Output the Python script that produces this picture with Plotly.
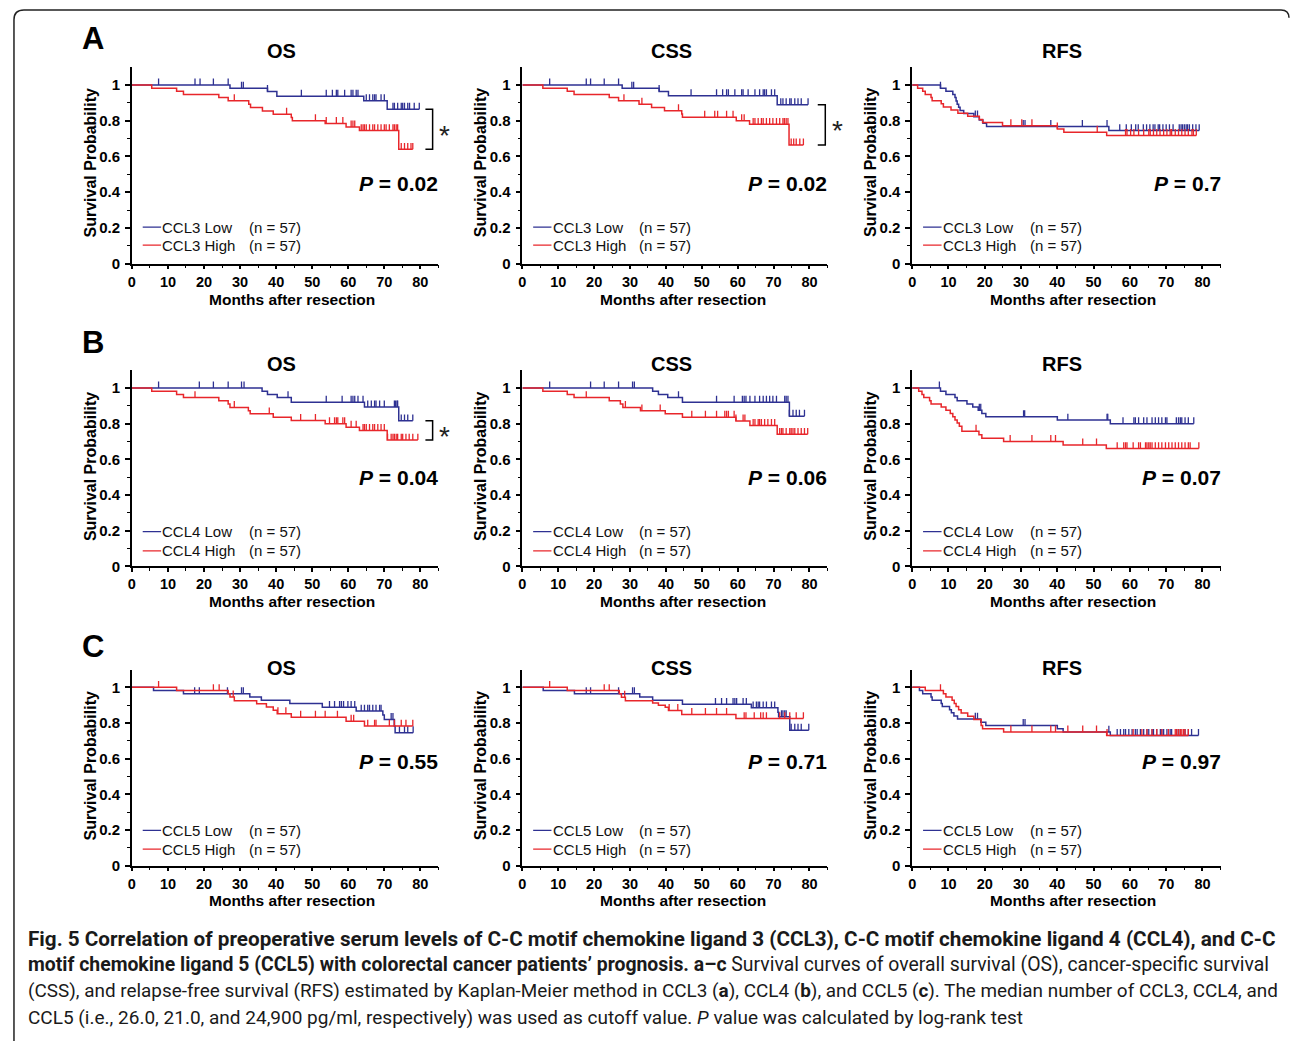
import numpy as np
import plotly.graph_objects as go

W, H = 1290, 1041
BLUE = "#2E3192"
RED = "#E8262B"
FONT = "Liberation Sans, Arial, sans-serif"
CAP_FONT = "Roboto, Liberation Sans, sans-serif"

# ---------------- data ----------------
month_ticks = [0, 10, 20, 30, 40, 50, 60, 70, 80]
prob_ticks = [0, 0.2, 0.4, 0.6, 0.8, 1.0]
prob_ticktext = ["0", "0.2", "0.4", "0.6", "0.8", "1"]
row_letters = ["A", "B", "C"]
col_titles = ["OS", "CSS", "RFS"]
ligands = ["CCL3", "CCL4", "CCL5"]
group_n = [57, 57]
p_values = [["0.02", "0.02", "0.7"], ["0.04", "0.06", "0.07"], ["0.55", "0.71", "0.97"]]

# --- CCL3 OS ---
ccl3_os_low_t = [27.2, 37.6, 40.2, 64.3, 70.8]
ccl3_os_low_s = [0.982, 0.964, 0.937, 0.912, 0.865]
ccl3_os_low_c = [7.4, 17.5, 18.9, 22.6, 26.7, 30.4, 30.9, 37.6, 47.0, 53.9, 55.6, 56.7, 57.1, 59.0, 60.8, 61.3,
                 62.2, 62.7, 65.0, 65.9, 66.8, 67.3, 67.7, 69.1, 70.0, 72.4, 72.8, 73.7, 74.7, 75.1, 75.6, 76.5,
                 77.0, 78.3, 79.7]
ccl3_os_high_t = [5.5, 12.4, 14.3, 24.1, 26.7, 32.4, 32.9, 36.2, 39.2, 44.2, 44.5, 53.6, 59.4, 63.1, 74.0]
ccl3_os_high_s = [0.982, 0.965, 0.947, 0.930, 0.912, 0.893, 0.874, 0.855, 0.837, 0.818, 0.800, 0.785, 0.765,
                  0.745, 0.640]
ccl3_os_high_c = [28.4, 42.9, 50.9, 53.9, 56.7, 58.5, 60.8, 61.3, 61.8, 63.6, 64.1, 64.5, 65.0, 65.9, 66.8, 67.3,
                  68.2, 69.1, 70.0, 70.5, 71.4, 72.4, 72.8, 73.3, 73.7, 74.7, 75.6, 76.5, 77.4, 77.9]
# --- CCL3 CSS ---
ccl3_css_low_t = [27.8, 38.1, 40.7, 71.0]
ccl3_css_low_s = [0.982, 0.964, 0.940, 0.890]
ccl3_css_low_c = [7.6, 17.8, 19.0, 22.8, 26.8, 30.5, 31.0, 38.1, 47.0, 54.1, 55.8, 56.9, 57.4, 59.2, 61.1, 61.5,
                  62.9, 64.8, 66.1, 67.1, 67.5, 68.0, 69.4, 70.3, 72.0, 72.6, 73.5, 74.5, 74.9, 75.9, 76.8, 77.7,
                  79.6]
ccl3_css_high_t = [5.7, 12.5, 14.4, 24.2, 26.8, 32.5, 36.0, 39.6, 44.4, 44.6, 59.6, 63.3, 74.3]
ccl3_css_high_s = [0.982, 0.965, 0.947, 0.930, 0.912, 0.893, 0.874, 0.856, 0.838, 0.820, 0.800, 0.780, 0.665]
ccl3_css_high_c = [28.3, 33.3, 43.5, 50.8, 53.6, 54.4, 56.9, 58.7, 61.1, 61.8, 64.3, 64.8, 65.7, 66.6, 67.1, 68.0,
                   68.9, 69.8, 70.8, 71.7, 72.6, 73.0, 73.5, 74.0, 74.9, 75.6, 76.3, 77.3, 78.3]
# --- CCL3 RFS ---
ccl3_rfs_low_t = [7.8, 9.3, 11.2, 11.8, 12.1, 12.4, 12.8, 13.2, 14.2, 17.0, 18.5, 19.5, 20.5, 54.2]
ccl3_rfs_low_s = [0.982, 0.965, 0.947, 0.930, 0.910, 0.893, 0.875, 0.857, 0.840, 0.822, 0.804, 0.786, 0.768,
                  0.745]
ccl3_rfs_low_c = [7.8, 17.4, 18.0, 30.6, 31.1, 38.2, 46.9, 53.7, 57.2, 59.0, 60.4, 61.6, 62.3, 63.7, 64.6, 65.5,
                  66.4, 66.9, 67.8, 68.2, 69.1, 70.0, 70.9, 71.9, 73.6, 74.1, 74.5, 75.0, 75.5, 75.9, 76.4, 77.3,
                  78.2, 79.1]
ccl3_rfs_high_t = [1.5, 2.9, 3.6, 5.2, 5.5, 8.0, 8.6, 10.7, 12.6, 15.3, 18.5, 19.4, 24.9, 40.0, 41.8, 53.6]
ccl3_rfs_high_s = [0.982, 0.965, 0.947, 0.930, 0.912, 0.895, 0.877, 0.860, 0.842, 0.825, 0.807, 0.790, 0.772,
                   0.754, 0.736, 0.718]
ccl3_rfs_high_c = [27.2, 30.2, 33.0, 40.0, 51.0, 58.8, 59.2, 60.2, 61.1, 62.4, 63.8, 65.2, 65.6, 66.5, 67.4, 68.3,
                   69.3, 70.2, 71.1, 71.5, 72.5, 73.4, 74.3, 75.2, 76.1, 77.1, 77.5, 78.3]
# --- CCL4 OS ---
ccl4_os_low_t = [36.1, 37.6, 40.3, 44.2, 64.5, 74.0]
ccl4_os_low_s = [0.982, 0.964, 0.946, 0.920, 0.894, 0.816]
ccl4_os_low_c = [7.4, 18.7, 22.6, 26.7, 30.4, 31.1, 43.3, 53.9, 58.3, 60.8, 61.3, 61.8, 62.7, 64.1, 65.4, 66.4,
                 67.3, 67.7, 68.7, 70.0, 72.8, 73.1, 73.5, 73.7, 74.7, 75.6, 76.5, 77.9]
ccl4_os_high_t = [5.5, 12.4, 14.3, 24.1, 26.7, 27.2, 32.3, 32.8, 39.2, 44.2, 53.6, 59.4, 63.1, 70.8]
ccl4_os_high_s = [0.982, 0.964, 0.946, 0.928, 0.910, 0.891, 0.873, 0.855, 0.836, 0.818, 0.800, 0.780, 0.762,
                  0.708]
ccl4_os_high_c = [17.5, 28.4, 38.1, 46.8, 50.9, 54.8, 56.2, 56.7, 57.1, 58.5, 59.0, 60.8, 62.2, 64.1, 64.5, 65.0,
                  65.9, 66.8, 67.3, 68.2, 69.1, 70.0, 70.9, 71.9, 72.4, 72.8, 73.3, 73.7, 74.7, 75.1, 76.0, 76.9,
                  77.9, 79.3]
# --- CCL4 CSS ---
ccl4_css_low_t = [36.3, 37.9, 40.5, 44.6, 74.4]
ccl4_css_low_s = [0.982, 0.964, 0.946, 0.920, 0.842]
ccl4_css_low_c = [7.6, 19.0, 22.8, 26.8, 30.7, 31.2, 43.5, 54.1, 59.0, 61.3, 61.8, 62.3, 63.4, 64.8, 66.1, 67.1,
                  68.0, 68.9, 69.8, 70.8, 73.1, 73.5, 74.0, 74.4, 75.4, 76.3, 77.2, 78.6]
ccl4_css_high_t = [5.7, 12.5, 14.4, 24.2, 27.3, 28.0, 32.9, 39.8, 44.6, 59.5, 63.4, 71.0]
ccl4_css_high_s = [0.982, 0.964, 0.946, 0.928, 0.910, 0.891, 0.872, 0.855, 0.836, 0.815, 0.790, 0.740]
ccl4_css_high_c = [17.8, 28.7, 33.3, 38.4, 47.2, 51.0, 54.1, 56.4, 56.9, 57.4, 59.0, 59.5, 61.5, 62.0, 64.3, 64.8,
                   65.7, 66.1, 66.6, 67.5, 68.4, 69.4, 70.3, 71.7, 72.2, 72.6, 73.5, 74.5, 74.9, 75.4, 75.9, 76.8,
                   77.7, 78.6, 79.5]
# --- CCL4 RFS ---
ccl4_rfs_low_t = [7.8, 9.3, 11.8, 12.4, 15.1, 16.7, 18.2, 19.2, 20.3, 40.0, 54.6]
ccl4_rfs_low_s = [0.982, 0.964, 0.946, 0.928, 0.910, 0.893, 0.875, 0.857, 0.839, 0.820, 0.800]
ccl4_rfs_low_c = [7.5, 18.5, 18.9, 30.7, 31.0, 42.9, 53.7, 53.9, 58.1, 61.1, 61.5, 62.4, 63.8, 64.7, 66.1, 67.0,
                  67.9, 68.8, 69.8, 70.2, 72.8, 73.4, 73.9, 74.3, 75.2, 76.1, 77.6]
ccl4_rfs_high_t = [1.8, 2.7, 3.2, 4.8, 5.2, 8.0, 9.3, 10.5, 11.2, 11.8, 12.4, 13.0, 13.7, 18.4, 19.2, 25.2, 41.6,
                   53.5]
ccl4_rfs_high_s = [0.982, 0.964, 0.946, 0.928, 0.910, 0.893, 0.875, 0.857, 0.839, 0.821, 0.803, 0.785, 0.758,
                   0.738, 0.718, 0.700, 0.681, 0.660]
ccl4_rfs_high_c = [17.6, 27.0, 33.0, 38.2, 39.5, 47.0, 50.8, 56.5, 58.3, 58.8, 59.2, 60.9, 62.4, 62.9, 64.3, 64.7,
                   65.2, 65.6, 66.1, 67.0, 67.9, 68.8, 69.8, 70.7, 71.6, 72.5, 73.4, 74.3, 75.2, 76.1, 76.6, 79.0]
# --- CCL5 OS ---
ccl5_os_low_t = [6.0, 14.3, 32.7, 35.9, 43.8, 52.8, 62.2, 69.6, 70.0, 72.8, 73.0]
ccl5_os_low_s = [0.982, 0.964, 0.946, 0.928, 0.910, 0.888, 0.867, 0.845, 0.820, 0.782, 0.746]
ccl5_os_low_c = [17.4, 18.7, 26.5, 30.4, 30.9, 54.8, 56.2, 57.6, 58.1, 58.7, 59.9, 60.8, 61.8, 63.6, 64.5, 65.4,
                 65.9, 66.8, 67.7, 68.7, 69.1, 71.9, 72.4, 72.8, 74.2, 75.6, 76.5, 78.0]
ccl5_os_high_t = [12.4, 26.7, 27.2, 28.4, 34.6, 37.3, 39.2, 40.3, 44.2, 59.4, 64.5]
ccl5_os_high_s = [0.982, 0.964, 0.946, 0.925, 0.908, 0.890, 0.871, 0.852, 0.833, 0.810, 0.783]
ccl5_os_high_c = [7.4, 22.6, 24.2, 28.1, 40.5, 42.7, 46.8, 50.9, 53.6, 57.0, 60.8, 61.5, 65.4, 67.3, 67.7, 71.4,
                  72.8, 74.7, 76.0, 77.9]
# --- CCL5 CSS ---
ccl5_css_low_t = [5.8, 14.5, 32.7, 36.3, 44.6, 63.8, 71.2, 71.4, 74.5]
ccl5_css_low_s = [0.982, 0.964, 0.946, 0.928, 0.905, 0.885, 0.860, 0.835, 0.760]
ccl5_css_low_c = [17.8, 19.0, 26.8, 30.7, 31.2, 53.8, 55.5, 56.9, 58.7, 59.2, 59.7, 61.5, 62.4, 64.3, 65.2, 65.7,
                  66.1, 67.1, 68.0, 69.4, 70.3, 72.2, 72.6, 73.1, 73.5, 74.9, 75.9, 76.8, 77.7, 79.8]
ccl5_css_high_t = [12.5, 27.0, 27.6, 28.7, 36.3, 37.9, 39.8, 40.7, 44.4, 59.5]
ccl5_css_high_s = [0.982, 0.964, 0.945, 0.925, 0.913, 0.900, 0.888, 0.870, 0.848, 0.825]
ccl5_css_high_c = [7.6, 22.8, 24.2, 28.5, 40.9, 43.3, 47.2, 51.0, 54.1, 56.9, 61.8, 62.3, 64.6, 66.4, 67.1, 68.0,
                   71.7, 73.1, 74.5, 76.3, 78.3]
# --- CCL5 RFS ---
ccl5_rfs_low_t = [2.0, 2.9, 5.2, 5.5, 8.0, 8.3, 10.3, 10.8, 11.5, 12.5, 18.9, 20.3, 40.0, 41.6, 54.6]
ccl5_rfs_low_s = [0.982, 0.964, 0.946, 0.928, 0.910, 0.893, 0.875, 0.857, 0.840, 0.822, 0.804, 0.786, 0.768,
                  0.749, 0.730]
ccl5_rfs_low_c = [17.4, 18.0, 30.6, 31.1, 54.2, 56.5, 57.4, 58.3, 58.8, 59.7, 60.6, 61.5, 62.0, 62.9, 63.8, 64.7,
                  65.2, 66.1, 66.5, 67.4, 68.4, 68.8, 69.3, 70.2, 71.1, 71.5, 72.9, 73.4, 73.9, 74.8, 75.2, 76.1,
                  77.0, 78.9]
ccl5_rfs_high_t = [3.6, 8.6, 9.3, 11.0, 11.6, 12.1, 12.8, 13.5, 15.3, 17.0, 19.0, 19.4, 25.2, 53.6]
ccl5_rfs_high_s = [0.982, 0.964, 0.946, 0.928, 0.910, 0.892, 0.874, 0.856, 0.838, 0.820, 0.786, 0.768, 0.750,
                   0.730]
ccl5_rfs_high_c = [7.8, 27.2, 33.0, 38.2, 39.5, 42.9, 47.0, 50.8, 53.7, 60.9, 63.3, 64.7, 66.1, 67.4, 68.8, 70.6,
                   72.5, 72.9, 73.4, 73.9, 74.3, 74.8, 75.2, 76.1]

curves = [
    [[(ccl3_os_low_t, ccl3_os_low_s, ccl3_os_low_c), (ccl3_os_high_t, ccl3_os_high_s, ccl3_os_high_c)],
     [(ccl3_css_low_t, ccl3_css_low_s, ccl3_css_low_c), (ccl3_css_high_t, ccl3_css_high_s, ccl3_css_high_c)],
     [(ccl3_rfs_low_t, ccl3_rfs_low_s, ccl3_rfs_low_c), (ccl3_rfs_high_t, ccl3_rfs_high_s, ccl3_rfs_high_c)]],
    [[(ccl4_os_low_t, ccl4_os_low_s, ccl4_os_low_c), (ccl4_os_high_t, ccl4_os_high_s, ccl4_os_high_c)],
     [(ccl4_css_low_t, ccl4_css_low_s, ccl4_css_low_c), (ccl4_css_high_t, ccl4_css_high_s, ccl4_css_high_c)],
     [(ccl4_rfs_low_t, ccl4_rfs_low_s, ccl4_rfs_low_c), (ccl4_rfs_high_t, ccl4_rfs_high_s, ccl4_rfs_high_c)]],
    [[(ccl5_os_low_t, ccl5_os_low_s, ccl5_os_low_c), (ccl5_os_high_t, ccl5_os_high_s, ccl5_os_high_c)],
     [(ccl5_css_low_t, ccl5_css_low_s, ccl5_css_low_c), (ccl5_css_high_t, ccl5_css_high_s, ccl5_css_high_c)],
     [(ccl5_rfs_low_t, ccl5_rfs_low_s, ccl5_rfs_low_c), (ccl5_rfs_high_t, ccl5_rfs_high_s, ccl5_rfs_high_c)]],
]
significant = {(0, 0), (0, 1), (1, 0)}

caption_lines = [
    "<b>Fig. 5 Correlation of preoperative serum levels of C-C motif chemokine ligand 3 (CCL3), C-C motif chemokine ligand 4 (CCL4), and C-C</b>",
    "<b>motif chemokine ligand 5 (CCL5) with colorectal cancer patients\u2019 prognosis. a\u2013c</b> Survival curves of overall survival (OS), cancer-specific survival",
    "(CSS), and relapse-free survival (RFS) estimated by Kaplan-Meier method in CCL3 (<b>a</b>), CCL4 (<b>b</b>), and CCL5 (<b>c</b>). The median number of CCL3, CCL4, and",
    "CCL5 (i.e., 26.0, 21.0, and 24,900 pg/ml, respectively) was used as cutoff value. <i>P</i> value was calculated by log-rank test",
]

# ---------------- layout geometry (pixels) ----------------
COL_X0 = [128.3, 520.0, 911.0]
COL_PPM = [3.617, 3.60, 3.64]
ROW_Y0 = [265.7, 570.7, 872.3]
ROW_PPU = [180.0, 179.7, 179.6]
XMAX, YMAX = 85, 1.1
LETTER_X = 89
LETTER_Y = [39, 345, 652]
TITLE_X = [278, 670, 1061.5]
TITLE_Y = [51.7, 366.7, 672.7]
YTITLE_X = [87, 478, 869]
YTITLE_Y = [164, 470, 771.7]
XTITLE_X = [289.3, 680.7, 1072.7]
XTITLE_Y = [302, 606, 907.5]
P_Y = [0.45, 0.50, 0.585]
LEG_Y = [(0.204, 0.104), (0.195, 0.087), (0.198, 0.092)]
BRACKET_X = {(0, 0): (81.4, 83.4), (0, 1): (82.3, 84.4), (1, 0): (81.4, 83.4)}
CAP_X = 22
CAP_Y = [946, 972, 998, 1025]
CAP_SIZE = [20.7, 19.4, 18.9, 19.0]


def fx(px):
    return px / W


def fy(py):
    return 1 - py / H


def km_line(t, s, c):
    end = max(max(c), max(t))
    return [0] + list(t) + [end], [1.0] + list(s) + [s[-1]]


def km_at(t, s, c):
    idx = np.searchsorted(np.asarray(t), np.asarray(c), side="right")
    return np.concatenate([[1.0], np.asarray(s)])[idx]


fig = go.Figure()
annotations = []
shapes = []
layout_axes = {}

for r in range(3):
    for ci in range(3):
        k = r * 3 + ci + 1
        xa = "x" if k == 1 else f"x{k}"
        ya = "y" if k == 1 else f"y{k}"
        xkey = "xaxis" if k == 1 else f"xaxis{k}"
        ykey = "yaxis" if k == 1 else f"yaxis{k}"
        x0 = COL_X0[ci]
        x1 = x0 + XMAX * COL_PPM[ci]
        y0 = ROW_Y0[r]
        y1 = y0 - YMAX * ROW_PPU[r]
        layout_axes[xkey] = dict(
            domain=[fx(x0), fx(x1)], range=[0, XMAX], anchor=ya,
            showline=True, linecolor="black", linewidth=1.5, mirror=False,
            ticks="outside", ticklen=4, tickwidth=1.5, tickcolor="black",
            tickmode="array", tickvals=month_ticks,
            minor=dict(tickmode="array", tickvals=[m + 5 for m in month_ticks], ticks="outside",
                       ticklen=3, tickwidth=1.2, tickcolor="black"),
            showgrid=False, zeroline=False, fixedrange=True,
            tickfont=dict(family=FONT, size=14.5, color="black", weight="bold"),
            ticklabelstandoff=0,
        )
        layout_axes[ykey] = dict(
            domain=[fy(y0), fy(y1)], range=[0, YMAX], anchor=xa,
            showline=True, linecolor="black", linewidth=1.5,
            ticks="outside", ticklen=5, tickwidth=1.5, tickcolor="black",
            tickmode="array", tickvals=prob_ticks, ticktext=prob_ticktext,
            minor=dict(tickmode="array", tickvals=[0.1, 0.3, 0.5, 0.7, 0.9], ticks="outside",
                       ticklen=3, tickwidth=1.2, tickcolor="black"),
            showgrid=False, zeroline=False, fixedrange=True,
            tickfont=dict(family=FONT, size=15, color="black", weight="bold"),
            ticklabelstandoff=2,
        )

        ends = []
        for gi, (t, s, c) in enumerate(curves[r][ci]):
            col = BLUE if gi == 0 else RED
            lx, ly = km_line(t, s, c)
            fig.add_trace(go.Scatter(x=lx, y=ly, mode="lines", line=dict(color=col, width=1.5, shape="hv"),
                                     xaxis=xa, yaxis=ya, showlegend=False, hoverinfo="skip"))
            cy = km_at(t, s, c)
            fig.add_trace(go.Scatter(x=c, y=cy, mode="markers", marker=dict(size=1, color=col, opacity=0),
                                     error_y=dict(type="constant", value=0.036, valueminus=0, symmetric=False,
                                                  width=0, thickness=1.3, color=col),
                                     xaxis=xa, yaxis=ya, showlegend=False, hoverinfo="skip"))
            ends.append(s[-1])
            # legend entry
            ly_leg = LEG_Y[r][gi]
            shapes.append(dict(type="line", xref=xa, yref=ya, x0=3.0, x1=8.1, y0=ly_leg, y1=ly_leg,
                               line=dict(color=col, width=1.3)))
            label = f"{ligands[r]} {'Low' if gi == 0 else 'High'}"
            annotations.append(dict(xref=xa, yref=ya, x=7.9, y=ly_leg, text=label, showarrow=False,
                                    xanchor="left", yanchor="middle",
                                    font=dict(family=FONT, size=15, color="#111111")))
            annotations.append(dict(xref=xa, yref=ya, x=31.8, y=ly_leg, text=f"(n = {group_n[gi]})",
                                    showarrow=False, xanchor="left", yanchor="middle",
                                    font=dict(family=FONT, size=15, color="#111111")))

        # P value
        annotations.append(dict(xref=xa, yref=ya, x=XMAX, y=P_Y[r], text=f"<b><i>P</i> = {p_values[r][ci]}</b>",
                                showarrow=False, xanchor="right", yanchor="middle", xshift=2,
                                font=dict(family=FONT, size=21, color="black")))
        # significance bracket
        if (r, ci) in significant:
            bx0, bx1 = BRACKET_X[(r, ci)]
            top, bot = max(ends), min(ends)
            shapes.append(dict(type="path", xref=xa, yref=ya,
                               path=f"M {bx0},{top} L {bx1},{top} L {bx1},{bot} L {bx0},{bot}",
                               line=dict(color="black", width=1.5)))
            annotations.append(dict(xref=xa, yref=ya, x=bx1, y=(top + bot) / 2, text="*",
                                    showarrow=False, xanchor="center", yanchor="middle",
                                    xshift=12, yshift=-6,
                                    font=dict(family=FONT, size=28, color="#222222")))
        # titles
        annotations.append(dict(xref="paper", yref="paper", x=fx(TITLE_X[ci]), y=fy(TITLE_Y[r]),
                                text=f"<b>{col_titles[ci]}</b>", showarrow=False, xanchor="center",
                                yanchor="middle", font=dict(family=FONT, size=20, color="black")))
        annotations.append(dict(xref="paper", yref="paper", x=fx(YTITLE_X[ci]), y=fy(YTITLE_Y[r]),
                                text="<b>Survival Probability</b>", textangle=-90, showarrow=False,
                                xanchor="center", yanchor="middle",
                                font=dict(family=FONT, size=16, color="black")))
        annotations.append(dict(xref="paper", yref="paper", x=fx(XTITLE_X[ci]), y=fy(XTITLE_Y[r]),
                                text="<b>Months after resection</b>", showarrow=False,
                                xanchor="center", yanchor="middle",
                                font=dict(family=FONT, size=15.5, color="black")))
    annotations.append(dict(xref="paper", yref="paper", x=fx(LETTER_X), y=fy(LETTER_Y[r]),
                            text=f"<b>{row_letters[r]}</b>", showarrow=False, xanchor="center",
                            yanchor="middle", font=dict(family=FONT, size=31, color="black")))

for i, line in enumerate(caption_lines):
    annotations.append(dict(xref="paper", yref="paper", x=fx(CAP_X), y=fy(CAP_Y[i]), text=line,
                            showarrow=False, xanchor="left", yanchor="middle",
                            font=dict(family=CAP_FONT, size=CAP_SIZE[i], color="#1a1a1a")))

# outer rounded frame
shapes.append(dict(type="path", xref="paper", yref="paper",
                   path=(f"M {fx(10)},{fy(1060)} L {fx(10)},{fy(20)} Q {fx(10)},{fy(10)} {fx(20)},{fy(10)} "
                         f"L {fx(1281)},{fy(10)} Q {fx(1289)},{fy(10)} {fx(1289)},{fy(18)}"),
                   line=dict(color="#222222", width=1.5)))

fig.update_layout(
    width=W, height=H, autosize=False,
    margin=dict(l=0, r=0, t=0, b=0),
    paper_bgcolor="white", plot_bgcolor="white",
    showlegend=False,
    annotations=annotations, shapes=shapes,
    **layout_axes,
)

fig.write_html("out.html", config={"displayModeBar": False},
               post_script="document.body.style.margin='0';document.body.style.overflow='hidden';")
